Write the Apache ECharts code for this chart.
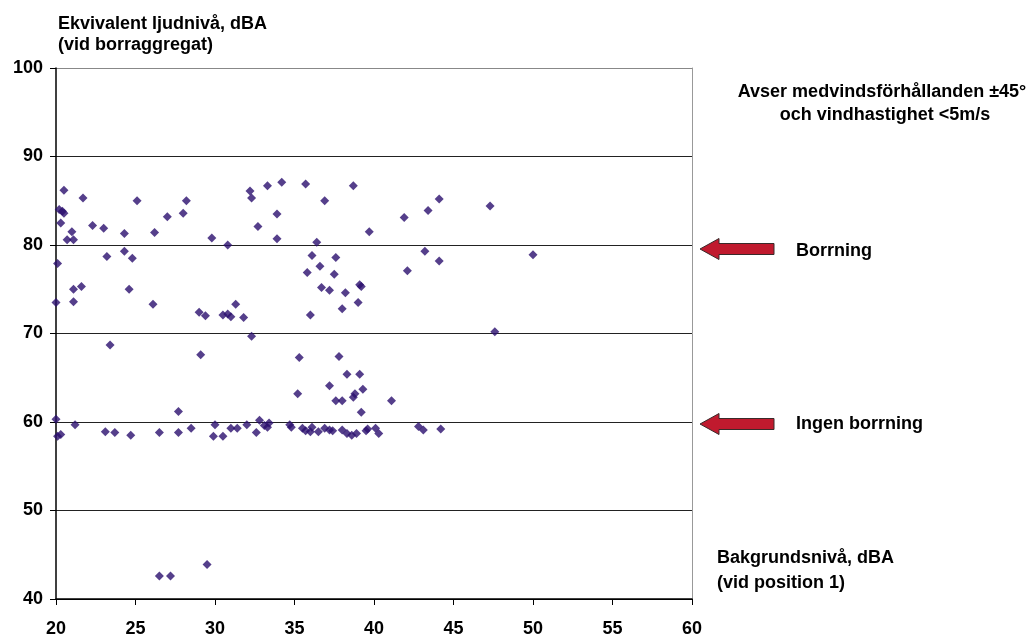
<!DOCTYPE html>
<html><head><meta charset="utf-8">
<script src="https://cdn.jsdelivr.net/npm/echarts@6/dist/echarts.min.js"></script>
<style>html,body{margin:0;padding:0;background:#fff}#c{width:1032px;height:638px}</style>
</head><body><div id="c"></div>
<script>
// x: bakgrundsnivå (dBA), y: ekvivalent ljudnivå (dBA)
const pointsBorrning = [
 [20.5,86.2],[21.7,85.3],[25.1,85.0],[28.2,85.0],[32.2,86.1],[32.3,85.3],[33.3,86.7],
 [20.2,84.0],[20.4,83.8],[20.5,83.6],[20.3,82.5],[21.0,81.5],[20.7,80.6],[21.1,80.6],
 [22.3,82.2],[23.0,81.9],[24.3,81.3],[26.2,81.4],[27.0,83.2],[28.0,83.6],[29.8,80.8],[30.8,80.0],[32.7,82.1],
 [20.1,77.9],[23.2,78.7],[24.3,79.3],[24.8,78.5],[21.1,75.0],[21.6,75.3],[24.6,75.0],
 [20.0,73.5],[21.1,73.6],[26.1,73.3],[29.0,72.4],[29.4,72.0],[30.5,72.1],[30.8,72.2],[31.0,71.9],[31.3,73.3],[31.8,71.8],[32.3,69.7],[23.4,68.7],[29.1,67.6],
 [34.2,87.1],[35.7,86.9],[38.7,86.7],[36.9,85.0],[33.9,83.5],[33.9,80.7],[36.4,80.3],[39.7,81.5],[41.9,83.1],[43.4,83.9],[44.1,85.2],
 [36.1,78.8],[37.6,78.6],[36.6,77.6],[35.8,76.9],[37.5,76.7],[36.7,75.2],[37.2,74.9],[38.2,74.6],[39.1,75.5],[39.2,75.3],[38.0,72.8],[39.0,73.5],[36.0,72.1],
 [43.2,79.3],[44.1,78.2],[42.1,77.1],[35.3,67.3],[37.8,67.4],[47.3,84.4],[47.6,70.2],[50.0,78.9]
];
const pointsMellan = [
 [35.2,63.2],[37.2,64.1],[38.3,65.4],[39.1,65.4],[38.8,63.2],[38.7,62.8],[39.3,63.7],[37.6,62.4],[38.0,62.4],[39.2,61.1],[41.1,62.4],[27.7,61.2]
];
const pointsIngen = [
 [20.0,60.3],[20.1,58.4],[20.3,58.6],[21.2,59.7],[23.1,58.9],[23.7,58.8],[24.7,58.5],[26.5,58.8],[27.7,58.8],[28.5,59.3],[30.0,59.7],[29.9,58.4],[30.5,58.4],[31.0,59.3],[31.4,59.3],[32.0,59.7],[32.6,58.8],[32.8,60.2],[33.1,59.6],[33.3,59.4],[33.4,59.9],
 [34.7,59.7],[34.8,59.4],[35.5,59.3],[35.7,59.0],[36.1,59.4],[36.0,58.9],[36.5,58.9],[36.9,59.3],[37.2,59.1],[37.4,59.0],[38.0,59.1],[38.3,58.7],[38.6,58.5],[38.9,58.7],[39.5,59.0],[39.6,59.2],[40.1,59.3],[40.3,58.7],[42.8,59.5],[43.1,59.1],[44.2,59.2]
];
const pointsLaga = [[26.5,42.6],[27.2,42.6],[29.5,43.9]];
const xTicks = [20,25,30,35,40,45,50,55,60];
const yTicks = [40,50,60,70,80,90,100];

const FONT = '"Liberation Sans", Arial, sans-serif';
const F = 'bold 18px ' + FONT;
const allPoints = pointsBorrning.concat(pointsMellan, pointsIngen, pointsLaga);

function arrow(cy){
  return {type:'polygon', shape:{points:[[700,cy],[719,cy-10.5],[719,cy-5.5],[774,cy-5.5],[774,cy+5.5],[719,cy+5.5],[719,cy+10.5]]},
    style:{fill:'#C01A2E', stroke:'#3a2a2a', lineWidth:1}, z:10};
}
function label(x,y,t,align){
  return {type:'text', x:x, y:y, style:{text:t, fill:'#000', font:F, textAlign:align||'left', textVerticalAlign:'middle'}, z:10};
}

const chart = echarts.init(document.getElementById('c'), null, {renderer:'canvas'});
chart.setOption({
  animation:false,
  backgroundColor:'#fff',
  grid:{left:56, top:68, right:340, bottom:37},
  xAxis:{type:'value', min:xTicks[0], max:xTicks[xTicks.length-1], interval:5,
    axisLine:{lineStyle:{color:'#000', width:1.5}},
    axisTick:{show:true, length:6, lineStyle:{color:'#000'}},
    axisLabel:{color:'#000', fontFamily:FONT, fontWeight:'bold', fontSize:18, margin:21},
    splitLine:{show:false}},
  yAxis:[{type:'value', min:yTicks[0], max:yTicks[yTicks.length-1], interval:10,
    axisLine:{show:true, lineStyle:{color:'#000', width:1.5}},
    axisTick:{show:true, length:6, lineStyle:{color:'#000'}},
    axisLabel:{color:'#000', fontFamily:FONT, fontWeight:'bold', fontSize:18, margin:13},
    splitLine:{show:true, lineStyle:{color:['#000','#222','#222','#222','#222','#222','#888'], width:1}}},
   {type:'value', position:'right', min:yTicks[0], max:yTicks[yTicks.length-1], interval:10,
    axisLine:{show:true, lineStyle:{color:'#999', width:1}},
    axisTick:{show:false}, axisLabel:{show:false}, splitLine:{show:false}}],
  series:[{type:'scatter', data:allPoints, symbol:'diamond', symbolSize:9,
    itemStyle:{color:'#2A0F6E'}}],
  graphic:[
    label(58,24,'Ekvivalent ljudnivå, dBA'),
    label(58,45,'(vid borraggregat)'),
    label(882,92,'Avser medvindsförhållanden ±45°','center'),
    label(885,115,'och vindhastighet <5m/s','center'),
    arrow(249), arrow(424),
    label(796,251,'Borrning'),
    label(796,424,'Ingen borrning'),
    label(717,558,'Bakgrundsnivå, dBA'),
    label(717,583,'(vid position 1)')
  ]
});
</script></body></html>
